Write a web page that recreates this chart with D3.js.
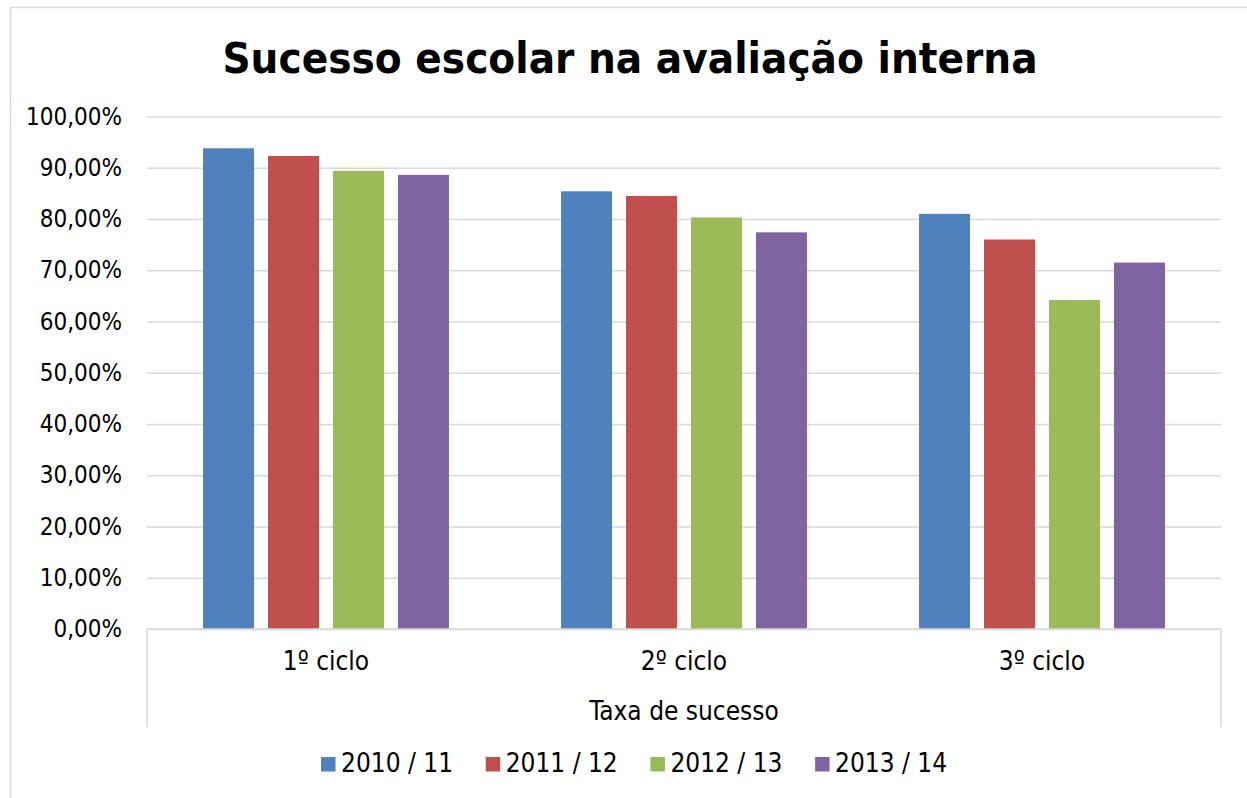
<!DOCTYPE html>
<html>
<head>
<meta charset="utf-8">
<script src="https://cdn.jsdelivr.net/npm/d3@7"></script>
<style>
  body { margin: 0; background: #fff; }
  text { font-family: "DejaVu Sans Condensed", "DejaVu Sans", sans-serif; fill: #000; }
</style>
</head>
<body>
<script>
// data
var categories = ["1º ciclo", "2º ciclo", "3º ciclo"];
var series = ["2010 / 11", "2011 / 12", "2012 / 13", "2013 / 14"];
var colors = ["#4F81BD", "#C0504D", "#9BBB59", "#8064A2"];
var values = [
    [0.938, 0.923, 0.894, 0.886],  // 1º ciclo
    [0.854, 0.845, 0.803, 0.774],  // 2º ciclo
    [0.810, 0.760, 0.642, 0.715]   // 3º ciclo
];
var yTicks = [0, 0.1, 0.2, 0.3, 0.4, 0.5, 0.6, 0.7, 0.8, 0.9, 1.0];
var title = "Sucesso escolar na avaliação interna";
var axisTitle = "Taxa de sucesso";

var W = 1247, H = 798;
var plot = { left: 147, right: 1221, top: 116.5, bottom: 629 };

var svg = d3.select("body").append("svg")
    .attr("width", W)
    .attr("height", H);

svg.append("rect")
    .attr("width", W).attr("height", H)
    .attr("fill", "#fff");

// chart area border
svg.append("rect")
    .attr("x", 10.5).attr("y", 7.5)
    .attr("width", 1270).attr("height", 820)
    .attr("fill", "none")
    .attr("stroke", "#d9d9d9")
    .attr("stroke-width", 1.5);

var pt = d3.formatLocale({ decimal: ",", thousands: ".", grouping: [3], currency: ["", "€"] }).format(".2%");

var y = d3.scaleLinear()
    .domain([0, 1])
    .range([plot.bottom, plot.top]);

var x0 = d3.scaleBand()
    .domain(categories)
    .range([plot.left, plot.right])
    .paddingInner(0.274)
    .paddingOuter(0.137);

var x1 = d3.scaleBand()
    .domain(series)
    .range([0, x0.bandwidth()])
    .paddingInner(0.215)
    .paddingOuter(0.1075);

// gridlines + y labels
var yAxis = svg.append("g")
    .attr("class", "y-axis")
    .attr("transform", "translate(" + plot.left + ",0)")
    .call(d3.axisLeft(y)
        .tickValues(yTicks)
        .tickFormat(pt)
        .tickSize(-(plot.right - plot.left))
        .tickPadding(25));
yAxis.select(".domain").remove();
yAxis.selectAll(".tick line")
    .attr("stroke", "#d9d9d9")
    .attr("stroke-width", 1.5);
yAxis.selectAll(".tick text")
    .attr("font-size", 24)
    .attr("fill", "#000")
    .attr("font-family", "\"DejaVu Sans Condensed\", \"DejaVu Sans\", sans-serif");

// bars
var groups = svg.selectAll(".group")
    .data(values)
    .enter().append("g")
    .attr("class", "group")
    .attr("transform", function (d, i) { return "translate(" + x0(categories[i]) + ",0)"; });

groups.selectAll("rect")
    .data(function (d) { return d; })
    .enter().append("rect")
    .attr("x", function (d, j) { return x1(series[j]); })
    .attr("y", function (d) { return y(d); })
    .attr("width", x1.bandwidth())
    .attr("height", function (d) { return y(0) - y(d); })
    .attr("fill", function (d, j) { return colors[j]; });

// category axis box
var ax = svg.append("g").attr("class", "x-axis");
ax.append("line")
    .attr("x1", plot.left).attr("x2", plot.right)
    .attr("y1", plot.bottom).attr("y2", plot.bottom)
    .attr("stroke", "#d9d9d9").attr("stroke-width", 1.5);
[plot.left, plot.right].forEach(function (xx) {
    ax.append("line")
        .attr("x1", xx).attr("x2", xx)
        .attr("y1", plot.bottom).attr("y2", 727)
        .attr("stroke", "#d9d9d9").attr("stroke-width", 1.5);
});
ax.selectAll(".cat")
    .data(categories)
    .enter().append("text")
    .attr("class", "cat")
    .attr("x", function (d) { return x0(d) + x0.bandwidth() / 2; })
    .attr("y", 670)
    .attr("text-anchor", "middle")
    .attr("font-size", 26)
    .text(function (d) { return d; });
ax.append("text")
    .attr("x", (plot.left + plot.right) / 2)
    .attr("y", 720)
    .attr("text-anchor", "middle")
    .attr("font-size", 26)
    .text(axisTitle);

// title
svg.append("text")
    .attr("x", 630)
    .attr("y", 73)
    .attr("text-anchor", "middle")
    .attr("font-size", 43.5)
    .attr("font-weight", "bold")
    .text(title);

// legend
var legend = svg.selectAll(".legend")
    .data(series)
    .enter().append("g")
    .attr("class", "legend")
    .attr("transform", function (d, i) { return "translate(" + (321 + i * 164.7) + ",757)"; });
legend.append("rect")
    .attr("width", 14.5).attr("height", 14.5)
    .attr("fill", function (d, i) { return colors[i]; });
legend.append("text")
    .attr("x", 20)
    .attr("y", 15)
    .attr("font-size", 26)
    .text(function (d) { return d; });
</script>
</body>
</html>
